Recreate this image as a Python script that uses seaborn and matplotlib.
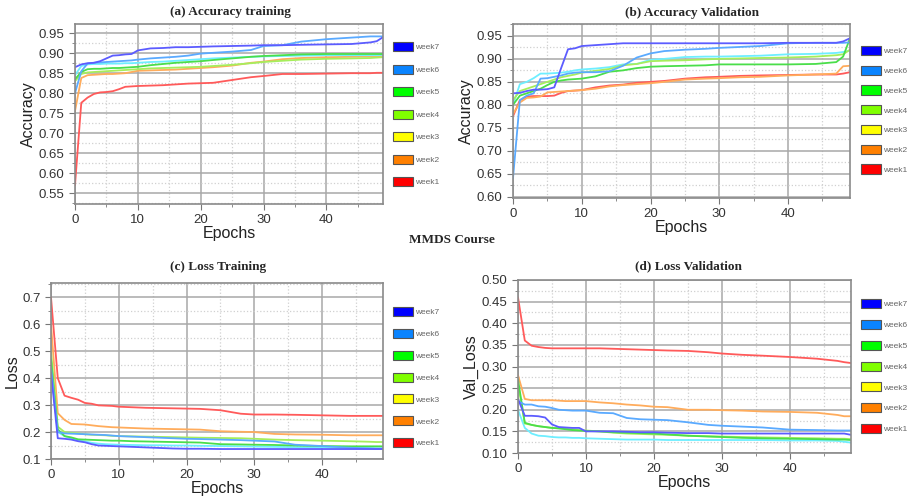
import matplotlib
matplotlib.use("Agg")
import matplotlib.pyplot as plt
from matplotlib.patches import Patch
from matplotlib.ticker import MultipleLocator
import pandas as pd
import seaborn as sns

epochs = [0, 1, 2, 3, 4, 5, 6, 7, 8, 9, 10, 12, 14, 16, 18, 20, 22, 25, 28, 30, 33, 36, 40, 44, 47, 48, 49]
weeks = ["week7", "week6", "week5", "week4", "week3", "week2", "week1"]

acc_train = {
    "week7": [0.865, 0.872, 0.875, 0.876, 0.880, 0.887, 0.894, 0.895, 0.897, 0.898, 0.907, 0.912, 0.913, 0.915, 0.915, 0.916, 0.917, 0.918, 0.919, 0.920, 0.920, 0.921, 0.922, 0.923, 0.927, 0.930, 0.940],
    "week6": [0.800, 0.855, 0.874, 0.876, 0.877, 0.878, 0.879, 0.880, 0.881, 0.882, 0.884, 0.887, 0.889, 0.891, 0.894, 0.899, 0.901, 0.904, 0.908, 0.918, 0.920, 0.929, 0.935, 0.939, 0.942, 0.942, 0.942],
    "week5": [0.835, 0.853, 0.860, 0.861, 0.861, 0.862, 0.863, 0.863, 0.864, 0.865, 0.866, 0.870, 0.873, 0.876, 0.878, 0.880, 0.883, 0.887, 0.891, 0.893, 0.895, 0.897, 0.898, 0.898, 0.898, 0.898, 0.898],
    "week4": [0.830, 0.848, 0.852, 0.853, 0.854, 0.855, 0.856, 0.857, 0.858, 0.859, 0.860, 0.862, 0.863, 0.864, 0.865, 0.866, 0.868, 0.871, 0.875, 0.878, 0.881, 0.884, 0.886, 0.887, 0.888, 0.889, 0.890],
    "week3": [0.845, 0.868, 0.872, 0.873, 0.873, 0.874, 0.874, 0.874, 0.875, 0.875, 0.876, 0.878, 0.879, 0.881, 0.883, 0.885, 0.887, 0.889, 0.891, 0.892, 0.893, 0.894, 0.895, 0.895, 0.895, 0.895, 0.896],
    "week2": [0.755, 0.838, 0.845, 0.846, 0.847, 0.848, 0.848, 0.849, 0.850, 0.853, 0.856, 0.857, 0.858, 0.859, 0.861, 0.863, 0.865, 0.869, 0.876, 0.879, 0.885, 0.888, 0.890, 0.891, 0.892, 0.892, 0.893],
    "week1": [0.570, 0.776, 0.789, 0.798, 0.802, 0.803, 0.805, 0.810, 0.816, 0.817, 0.818, 0.819, 0.820, 0.822, 0.824, 0.825, 0.826, 0.833, 0.840, 0.843, 0.848, 0.848, 0.849, 0.850, 0.850, 0.851, 0.851],
}

acc_val = {
    "week7": [0.825, 0.826, 0.830, 0.833, 0.833, 0.834, 0.838, 0.880, 0.921, 0.923, 0.928, 0.930, 0.932, 0.934, 0.934, 0.934, 0.934, 0.934, 0.934, 0.934, 0.934, 0.934, 0.935, 0.935, 0.935, 0.938, 0.945],
    "week6": [0.640, 0.810, 0.820, 0.825, 0.857, 0.858, 0.861, 0.864, 0.868, 0.870, 0.871, 0.871, 0.873, 0.885, 0.903, 0.912, 0.917, 0.920, 0.922, 0.924, 0.926, 0.928, 0.934, 0.935, 0.935, 0.935, 0.936],
    "week5": [0.800, 0.820, 0.825, 0.830, 0.835, 0.843, 0.850, 0.853, 0.855, 0.856, 0.857, 0.862, 0.872, 0.875, 0.880, 0.883, 0.884, 0.885, 0.886, 0.888, 0.888, 0.888, 0.888, 0.889, 0.893, 0.905, 0.945],
    "week4": [0.810, 0.830, 0.835, 0.840, 0.845, 0.850, 0.855, 0.860, 0.863, 0.866, 0.870, 0.874, 0.878, 0.886, 0.889, 0.895, 0.896, 0.897, 0.899, 0.900, 0.901, 0.902, 0.903, 0.905, 0.908, 0.910, 0.920],
    "week3": [0.800, 0.845, 0.850, 0.858, 0.868, 0.868, 0.869, 0.870, 0.872, 0.875, 0.877, 0.879, 0.882, 0.888, 0.889, 0.898, 0.900, 0.904, 0.905, 0.905, 0.906, 0.907, 0.910, 0.911, 0.913, 0.915, 0.918],
    "week2": [0.780, 0.805, 0.815, 0.816, 0.818, 0.827, 0.828, 0.829, 0.830, 0.831, 0.832, 0.835, 0.840, 0.843, 0.845, 0.847, 0.850, 0.855, 0.857, 0.858, 0.860, 0.861, 0.864, 0.866, 0.868, 0.884, 0.885],
    "week1": [0.775, 0.810, 0.818, 0.819, 0.819, 0.819, 0.820, 0.826, 0.830, 0.831, 0.832, 0.838, 0.842, 0.844, 0.848, 0.850, 0.852, 0.857, 0.860, 0.861, 0.863, 0.864, 0.865, 0.866, 0.866, 0.868, 0.871],
}

loss_train = {
    "week7": [0.420, 0.177, 0.175, 0.172, 0.166, 0.162, 0.155, 0.150, 0.149, 0.148, 0.147, 0.145, 0.143, 0.141, 0.139, 0.138, 0.138, 0.137, 0.137, 0.137, 0.137, 0.137, 0.137, 0.137, 0.137, 0.137, 0.137],
    "week6": [0.440, 0.200, 0.195, 0.194, 0.193, 0.192, 0.191, 0.190, 0.189, 0.187, 0.185, 0.183, 0.181, 0.179, 0.177, 0.175, 0.174, 0.172, 0.170, 0.168, 0.165, 0.153, 0.148, 0.142, 0.139, 0.138, 0.138],
    "week5": [0.470, 0.210, 0.185, 0.180, 0.173, 0.172, 0.171, 0.170, 0.169, 0.168, 0.168, 0.166, 0.165, 0.164, 0.163, 0.162, 0.161, 0.155, 0.154, 0.153, 0.152, 0.150, 0.148, 0.147, 0.147, 0.147, 0.147],
    "week4": [0.500, 0.220, 0.200, 0.197, 0.195, 0.192, 0.190, 0.189, 0.188, 0.186, 0.185, 0.184, 0.183, 0.182, 0.181, 0.180, 0.179, 0.178, 0.177, 0.175, 0.172, 0.170, 0.168, 0.166, 0.164, 0.163, 0.163],
    "week3": [0.450, 0.200, 0.185, 0.175, 0.170, 0.165, 0.160, 0.157, 0.155, 0.154, 0.153, 0.152, 0.151, 0.151, 0.150, 0.150, 0.149, 0.148, 0.147, 0.146, 0.145, 0.144, 0.143, 0.142, 0.141, 0.140, 0.140],
    "week2": [0.600, 0.270, 0.245, 0.230, 0.229, 0.228, 0.225, 0.222, 0.220, 0.218, 0.217, 0.215, 0.213, 0.212, 0.211, 0.210, 0.209, 0.203, 0.201, 0.200, 0.193, 0.191, 0.190, 0.188, 0.188, 0.188, 0.188],
    "week1": [0.700, 0.400, 0.335, 0.327, 0.320, 0.308, 0.305, 0.299, 0.298, 0.297, 0.294, 0.292, 0.290, 0.289, 0.288, 0.287, 0.286, 0.281, 0.268, 0.265, 0.265, 0.264, 0.262, 0.260, 0.260, 0.260, 0.260],
}

loss_val = {
    "week7": [0.225, 0.186, 0.186, 0.185, 0.182, 0.166, 0.160, 0.159, 0.158, 0.158, 0.150, 0.150, 0.150, 0.149, 0.148, 0.148, 0.147, 0.146, 0.146, 0.145, 0.145, 0.145, 0.145, 0.145, 0.145, 0.145, 0.142],
    "week6": [0.220, 0.212, 0.212, 0.208, 0.207, 0.204, 0.200, 0.199, 0.198, 0.198, 0.198, 0.193, 0.192, 0.181, 0.178, 0.177, 0.176, 0.171, 0.165, 0.163, 0.161, 0.159, 0.154, 0.153, 0.152, 0.152, 0.152],
    "week5": [0.270, 0.170, 0.165, 0.162, 0.160, 0.158, 0.157, 0.155, 0.153, 0.152, 0.151, 0.150, 0.148, 0.147, 0.146, 0.145, 0.143, 0.140, 0.138, 0.137, 0.135, 0.134, 0.133, 0.132, 0.131, 0.131, 0.130],
    "week4": [0.260, 0.168, 0.165, 0.162, 0.160, 0.158, 0.157, 0.156, 0.155, 0.153, 0.152, 0.150, 0.147, 0.145, 0.144, 0.143, 0.142, 0.140, 0.139, 0.138, 0.137, 0.136, 0.135, 0.134, 0.133, 0.133, 0.132],
    "week3": [0.200, 0.158, 0.145, 0.140, 0.139, 0.137, 0.136, 0.136, 0.135, 0.135, 0.134, 0.133, 0.132, 0.131, 0.131, 0.131, 0.130, 0.130, 0.130, 0.130, 0.130, 0.130, 0.129, 0.129, 0.128, 0.126, 0.124],
    "week2": [0.280, 0.225, 0.222, 0.222, 0.222, 0.222, 0.221, 0.220, 0.220, 0.220, 0.220, 0.217, 0.215, 0.212, 0.210, 0.207, 0.206, 0.200, 0.200, 0.199, 0.198, 0.196, 0.195, 0.193, 0.188, 0.185, 0.185],
    "week1": [0.460, 0.360, 0.348, 0.345, 0.343, 0.342, 0.342, 0.342, 0.342, 0.342, 0.342, 0.342, 0.341, 0.340, 0.339, 0.338, 0.337, 0.336, 0.333, 0.330, 0.327, 0.325, 0.322, 0.318, 0.313, 0.310, 0.308],
}

# curve colours (as drawn) and legend swatch colours
line_colors = {"week7": "#5c5cff", "week6": "#5aaaff", "week5": "#4ade4a", "week4": "#a6ee5c",
               "week3": "#6eeeff", "week2": "#ffac5c", "week1": "#ff5a5a"}
patch_colors = {"week7": "#0000ff", "week6": "#0a84ff", "week5": "#00ff00", "week4": "#80ff00",
                "week3": "#ffff00", "week2": "#ff8000", "week1": "#ff0000"}

sns.set_style("white")
plt.rcParams["font.family"] = ["Liberation Sans", "DejaVu Sans"]

W, H = 910, 499
fig = plt.figure(figsize=(W / 100, H / 100), dpi=100)


def px_axes(left, top, right, bottom):
    return fig.add_axes([left / W, 1 - bottom / H, (right - left) / W, (bottom - top) / H])


def to_long(data):
    rows = []
    for wk in weeks:
        for e, v in zip(epochs, data[wk]):
            rows.append({"epoch": e, "value": v, "week": wk})
    return pd.DataFrame(rows)


def draw_panel(ax, data, ylim, ymaj, ymin, ylabel, yfmt):
    df = to_long(data)
    sns.lineplot(data=df, x="epoch", y="value", hue="week", hue_order=weeks[::-1],
                 palette=line_colors, linewidth=1.3, legend=False, ax=ax)
    ax.set_xlim(0, 49)
    ax.set_ylim(*ylim)
    ax.xaxis.set_major_locator(MultipleLocator(10))
    ax.xaxis.set_minor_locator(MultipleLocator(5))
    ax.yaxis.set_major_locator(MultipleLocator(ymaj))
    ax.yaxis.set_minor_locator(MultipleLocator(ymin))
    ax.yaxis.set_major_formatter(plt.FormatStrFormatter(yfmt))
    ax.grid(which="major", color="#a8a8a8", linewidth=1.1)
    ax.grid(which="minor", color="#d0d0d0", linestyle=":", linewidth=0.9)
    ax.set_axisbelow(True)
    for s in ax.spines.values():
        s.set_color("#8a8a8a")
        s.set_linewidth(1.2)
    ax.tick_params(which="major", direction="out", length=4, color="#777777",
                   labelsize=9.5, labelcolor="#333333", left=True, bottom=True)
    ax.tick_params(which="minor", direction="out", length=2, color="#777777", left=True, bottom=True)
    ax.set_xlabel("Epochs", fontsize=11.5, color="#222222", labelpad=0)
    ax.set_ylabel(ylabel, fontsize=11.5, color="#222222", labelpad=2)


def add_legend(x, y_top, spacing):
    handles = [Patch(facecolor=patch_colors[w], edgecolor="#555555", linewidth=0.8, label=w) for w in weeks]
    fig.legend(handles=handles, loc="upper left", bbox_to_anchor=(x / W, 1 - y_top / H),
               frameon=False, fontsize=6, labelcolor="#666666", handlelength=2.4, handleheight=1.3,
               handletextpad=0.3, labelspacing=spacing, borderpad=0, borderaxespad=0)


title_font = dict(family=["Liberation Serif", "DejaVu Serif"], fontweight="bold", fontsize=9.5, ha="center", va="center")

ax_a = px_axes(75, 24, 383, 204)
draw_panel(ax_a, acc_train, (0.523, 0.973), 0.05, 0.025, "Accuracy", "%.2f")
ax_b = px_axes(513, 24, 850, 198)
draw_panel(ax_b, acc_val, (0.597, 0.976), 0.05, 0.025, "Accuracy", "%.2f")
ax_c = px_axes(51, 283, 383, 459)
draw_panel(ax_c, loss_train, (0.1, 0.753), 0.1, 0.05, "Loss", "%.1f")
ax_d = px_axes(518, 280, 851, 453)
draw_panel(ax_d, loss_val, (0.1, 0.5), 0.05, 0.025, "Val_Loss", "%.2f")

fig.text(230 / W, 1 - 12 / H, "(a) Accuracy training", **title_font)
fig.text(692 / W, 1 - 13 / H, "(b) Accuracy Validation", **title_font)
fig.text(218 / W, 1 - 267 / H, "(c) Loss Training", **title_font)
fig.text(688 / W, 1 - 266 / H, "(d) Loss Validation", **title_font)
fig.text(452 / W, 1 - 240 / H, "MMDS Course", **title_font)

add_legend(393, 42, 1.58)
add_legend(861, 46, 1.25)
add_legend(393, 307, 1.5)
add_legend(861, 299, 1.38)

fig.savefig("out.png", dpi=100)
